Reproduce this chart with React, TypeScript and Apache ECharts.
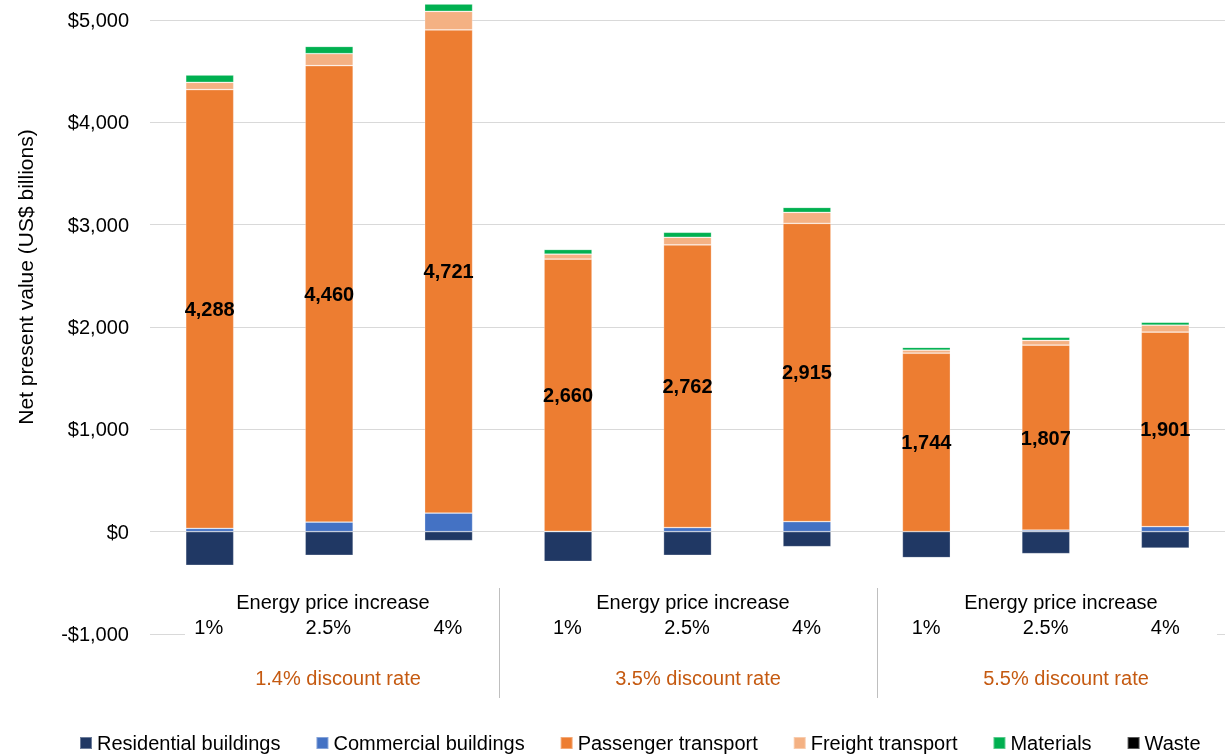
import React, { useEffect, useRef } from 'react';
import * as echarts from 'echarts';

// Energy price increase per bar (three discount-rate groups)
const categories = ['1%', '2.5%', '4%', '1%', '2.5%', '4%', '1%', '2.5%', '4%'];
const groupTitle = 'Energy price increase';
const discountRates = ['1.4% discount rate', '3.5% discount rate', '5.5% discount rate'];

// Net present value, US$ billions
const residential = [-329, -231, -88, -291, -231, -147, -254, -215, -160];
const commercial = [32, 94, 182, 3, 40, 98, 0, 16, 49];
const passenger = [4288, 4460, 4721, 2660, 2762, 2915, 1744, 1807, 1901];
const freight = [71, 117, 182, 49, 75, 107, 29, 46, 68];
const materials = [72, 71, 72, 46, 49, 49, 29, 32, 29];
const waste = [0, 0, 0, 0, 0, 0, 0, 0, 0];

const yMin = -1000;
const yMax = 5000;
const yStep = 1000;

const seriesNames = [
  'Residential buildings',
  'Commercial buildings',
  'Passenger transport',
  'Freight transport',
  'Materials',
  'Waste',
];
const seriesData = [residential, commercial, passenger, freight, materials, waste];
const seriesColors = ['#203864', '#4472C4', '#ED7D31', '#F4B183', '#00B050', '#000000'];

const FONT = "'Liberation Sans', Arial, sans-serif";
const fmt = (v: number) => Math.round(v).toLocaleString('en-US');

export default function App() {
  const ref = useRef<HTMLDivElement>(null);
  useEffect(() => {
    if (!ref.current) return;
    const chart = echarts.init(ref.current, null, { renderer: 'svg' });
    const groupCenters = [333, 693, 1061];
    const graphics: any[] = [
      // hide the lowest gridline behind the category label block
      { type: 'rect', z: 10, shape: { x: 185, y: 629, width: 1032, height: 10 }, style: { fill: '#ffffff' } },
      { type: 'line', z: 11, shape: { x1: 499.5, y1: 588, x2: 499.5, y2: 698 }, style: { stroke: '#bfbfbf', lineWidth: 1 } },
      { type: 'line', z: 11, shape: { x1: 877.5, y1: 588, x2: 877.5, y2: 698 }, style: { stroke: '#bfbfbf', lineWidth: 1 } },
      {
        type: 'text', z: 11, x: 25, y: 277, rotation: Math.PI / 2,
        style: { text: 'Net present value (US$ billions)', fill: '#000', font: `21px ${FONT}`, align: 'center', verticalAlign: 'middle' },
      },
    ];
    groupCenters.forEach((cx, i) => {
      graphics.push({
        type: 'text', z: 11, x: cx, y: 602,
        style: { text: groupTitle, fill: '#000', font: `20px ${FONT}`, align: 'center', verticalAlign: 'middle' },
      });
      graphics.push({
        type: 'text', z: 11, x: cx + 5, y: 678,
        style: { text: discountRates[i], fill: '#C55A11', font: `20px ${FONT}`, align: 'center', verticalAlign: 'middle' },
      });
    });

    chart.setOption({
      animation: false,
      textStyle: { fontFamily: FONT },
      grid: [
        { left: 150, right: -7, top: 20, height: 614 },
        { left: 149, right: -24, top: 600, height: 17 },
      ],
      legend: {
        data: seriesNames,
        left: 74,
        top: 728,
        icon: 'rect',
        itemWidth: 12,
        itemHeight: 12,
        itemGap: 35,
        textStyle: { fontSize: 20, color: '#000', fontFamily: FONT },
      },
      xAxis: [
        {
          type: 'category',
          gridIndex: 0,
          data: categories,
          axisLine: { show: false },
          axisTick: { show: false },
          axisLabel: { show: false },
        },
        {
          type: 'category',
          gridIndex: 1,
          data: categories,
          z: 50,
          axisLine: { show: false },
          axisTick: { show: false },
          axisLabel: { show: true, margin: 0, fontSize: 20, color: '#000', fontFamily: FONT },
        },
      ],
      yAxis: [
        {
          type: 'value',
          gridIndex: 0,
          min: yMin,
          max: yMax,
          interval: yStep,
          axisLine: { show: false },
          axisTick: { show: false },
          splitLine: { lineStyle: { color: '#d9d9d9', width: 1 } },
          axisLabel: {
            margin: 21,
            fontSize: 20,
            color: '#000',
            fontFamily: FONT,
            formatter: (v: number) => (v < 0 ? '-$' : '$') + fmt(Math.abs(v)),
          },
        },
        { type: 'value', gridIndex: 1, show: false },
      ],
      graphic: graphics,
      series: seriesNames.map((name, i) => ({
        name,
        type: 'bar',
        stack: 'total',
        xAxisIndex: 0,
        yAxisIndex: 0,
        barWidth: 48,
        clip: false,
        data: seriesData[i],
        itemStyle: { color: seriesColors[i], borderColor: 'rgba(255,255,255,0.35)', borderWidth: 0.75 },
        label:
          name === 'Passenger transport'
            ? {
                show: true,
                position: 'inside',
                fontSize: 20,
                fontWeight: 'bold',
                color: '#000',
                fontFamily: FONT,
                formatter: (p: any) => fmt(p.value),
              }
            : { show: false },
      })),
    });
    return () => chart.dispose();
  }, []);
  return <div ref={ref} style={{ position: 'fixed', left: 0, top: 0, width: 1225, height: 756 }} />;
}
